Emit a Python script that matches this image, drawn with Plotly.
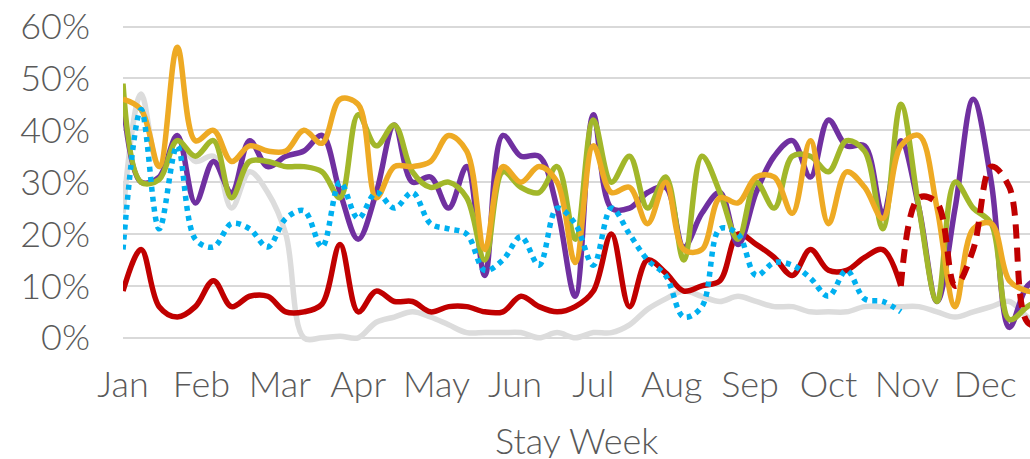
import plotly.graph_objects as go

months = ["Jan", "Feb", "Mar", "Apr", "May", "Jun", "Jul", "Aug", "Sep", "Oct", "Nov", "Dec"]
y_ticks = [0, 10, 20, 30, 40, 50, 60]
y_labels = ["0%", "10%", "20%", "30%", "40%", "50%", "60%"]
weeks = list(range(52))

purple = [46, 30, 31, 39, 26, 34, 28, 38, 33, 35, 36, 39, 28, 19, 28, 41, 30, 31, 25, 33,
          12, 39, 35, 35, 25, 8, 43, 25, 25, 28, 29, 17.5, 24, 28, 18, 28, 35, 38, 31, 42,
          37, 37, 24, 38, 25, 7, 25, 46, 30, 2, 10, 12]
green = [49, 30, 30.5, 38, 35, 38, 27, 34, 34, 33, 33, 32, 27, 43, 37, 41, 32, 29, 30, 27,
         15, 32, 29, 28, 33, 19, 42, 30, 35, 25, 31, 15, 35, 28, 19, 30, 25, 35, 35, 32,
         38, 36, 21, 45, 25, 7, 30, 25, 22, 3.5, 6, 8]
orange = [46, 44, 33, 56, 38, 40, 34, 37, 36, 36, 40, 37.5, 46, 45, 27, 33, 33, 34, 39, 36,
          17, 33, 30, 33, 30, 14.5, 37, 28, 29, 22, 30, 17, 17, 27, 26, 31, 31, 24, 38, 22,
          32, 29, 23, 37, 39, 25, 6, 21, 22, 11, 9, 9]
gray = [24, 47, 33, 38, 34, 35, 25, 32, 28, 20, 0, 0, 0.3, 0, 3, 4, 5, 4, 2.5, 1,
        1, 1, 1, 0, 1, 0, 1, 1, 2.5, 5.5, 7.5, 9, 8, 7, 8, 7, 6, 6, 5, 5,
        5, 6, 6, 6, 6, 5, 4, 5, 6, 7, 4, 2]
blue = [17, 44, 21, 37, 19, 17.5, 22, 21, 17.5, 23, 24.5, 17.5, 30, 23, 28, 25, 28, 22, 21, 20,
        13, 15, 19.5, 14, 25, 22, 14, 25, 20, 15, 12, 4, 6, 21, 20, 12, 14.5, 14, 11.5, 8,
        13, 7.5, 7, 5] + [None] * 8
red = [9, 17, 6, 4, 6, 11, 6, 8, 8, 5, 5, 6.5, 18, 5, 9, 7, 7, 5, 6, 6,
       5, 5, 8, 6, 5, 6, 9, 20, 6, 15, 12.5, 9, 10, 11, 20, 18, 15.5, 12, 17, 13,
       13, 15.5, 17, 10] + [None] * 8
red_dash = [None] * 43 + [10, 27, 26, 10, 17, 33, 29, 3, 2]

series = [
    ("gray", gray, "#DCDCDC", 5.5, "solid"),
    ("red", red, "#C00000", 5.5, "solid"),
    ("purple", purple, "#7030A0", 5.5, "solid"),
    ("green", green, "#A2B72A", 5.5, "solid"),
    ("orange", orange, "#EEAA24", 5.5, "solid"),
    ("blue", blue, "#00B0F0", 5.5, "5px,5px"),
    ("red_dash", red_dash, "#C00000", 6, "14px,9px"),
]

fig = go.Figure()
for name, vals, color, width, dash in series:
    fig.add_trace(go.Scatter(
        x=weeks, y=vals, name=name, mode="lines",
        line=dict(color=color, width=width, dash=dash, shape="spline", smoothing=1.0),
        connectgaps=False, hoverinfo="skip",
    ))

font_family = "Lato, 'Open Sans', sans-serif"
tick_font = dict(size=36, color="#595959", family=font_family, weight=300)
fig.update_layout(
    width=1030, height=459,
    margin=dict(l=123, r=0, t=25, b=115, autoexpand=False),
    paper_bgcolor="white", plot_bgcolor="white",
    showlegend=False,
    font=dict(family=font_family, size=36, color="#595959", weight=300),
    xaxis=dict(
        range=[0, 50.14],
        tickvals=[i * 52 / 12 for i in range(12)],
        ticktext=months,
        showgrid=False, zeroline=False, showline=False, ticks="",
        ticklabelstandoff=16, automargin=False, ticklabeloverflow="allow",
        tickfont=tick_font,
    ),
    yaxis=dict(
        range=[-1.2, 60.3],
        tickvals=y_ticks,
        ticktext=y_labels,
        showgrid=True, gridcolor="#D9D9D9", gridwidth=1.5,
        zeroline=False, showline=False, ticks="",
        ticklabelstandoff=32, automargin=False, ticklabeloverflow="allow",
        tickfont=tick_font,
    ),
    annotations=[dict(
        text="Stay Week", xref="paper", yref="paper", x=0.5, y=-0.305, yshift=1,
        xanchor="center", yanchor="middle", height=36, valign="middle",
        showarrow=False, font=tick_font,
    )],
)

fig.write_html(
    "out.html",
    config={"displayModeBar": False},
    post_script="document.body.style.margin='0';document.body.style.overflow='hidden';",
)
